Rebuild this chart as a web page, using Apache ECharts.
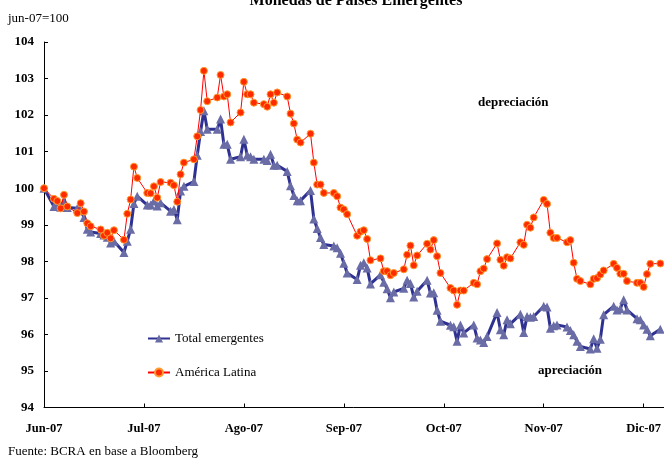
<!DOCTYPE html>
<html>
<head>
<meta charset="utf-8">
<script src="https://cdn.jsdelivr.net/npm/echarts@6/dist/echarts.min.js"></script>
<style>
  html, body { margin: 0; padding: 0; background: #fff; }
  #chart { width: 664px; height: 460px; }
</style>
</head>
<body>
<div id="chart"></div>
<script>
// etiquetas del eje x, una cada 30 dias desde el 1-jun-07
const monthLabels = ["Jun-07", "Jul-07", "Ago-07", "Sep-07", "Oct-07", "Nov-07", "Dic-07"];
const firstDay = "2007-06-01";
const lastDay = "2007-12-03";

// indice jun-07=100, un valor por dia habil
const totalEmergentes = [
  100.00, 99.50, 99.52, 99.48, 99.65, 99.47, 99.45, 99.40, 99.20, 98.88, 98.80,
  98.76, 98.72, 98.66, 98.50, 98.55, 98.24, 98.55, 98.88, 99.58, 99.78,
  99.54, 99.54, 99.65, 99.51, 99.60, 99.37, 99.42, 99.14, 99.92, 100.05,
  100.18, 100.90, 101.55, 102.12, 101.61, 101.61, 101.89, 101.20, 101.20, 100.79,
  100.86, 101.34,
  100.90, 100.86, 100.79, 100.79, 100.76, 100.93, 100.63, 100.63, 100.46, 100.07,
  99.80, 99.66, 99.66, 99.94, 99.16, 98.90, 98.65, 98.46, 98.42, 98.37, 98.22,
  97.95, 97.68,
  97.50, 97.89, 97.96, 97.82, 97.38, 97.63, 97.43, 97.25, 97.00, 97.16,
  97.26, 97.48, 97.39, 97.02, 97.18, 97.48, 97.13, 97.14, 96.66, 96.36,
  96.25, 96.21, 95.81, 96.26, 96.04, 96.26, 95.90, 95.85, 95.78, 95.94,
  96.60, 96.13, 95.99, 96.40, 96.29, 96.55, 96.05, 96.49, 96.47, 96.49,
  96.77, 96.75, 96.17,
  96.24, 96.26, 96.20, 96.11, 95.99, 95.81, 95.67, 95.60, 95.88, 95.62, 95.87,
  96.54, 96.77, 96.67, 96.70, 96.95, 96.67, 96.43, 96.40, 96.26, 96.14, 95.96,
  96.14
];
const americaLatina = [
  100.00, 99.71, 99.65, 99.45, 99.82, 99.50, 99.32, 99.59, 99.36, 99.04, 98.96,
  98.87, 98.70, 98.78, 98.63, 98.85, 98.59, 99.30, 99.69, 100.59, 100.28,
  99.87, 99.86, 100.05, 99.74, 100.17, 100.15, 100.08, 99.63, 100.38, 100.70,
  100.79, 101.42, 102.14, 103.21, 102.38, 102.48, 103.10, 102.51, 102.57, 101.80,
  102.07, 102.91,
  102.57, 102.57, 102.34, 102.30, 102.23, 102.57, 102.34, 102.62, 102.51, 102.04,
  101.77, 101.33, 101.25, 101.49, 100.70, 100.10, 100.10, 99.87, 99.87, 99.78,
  99.47, 99.42, 99.29,
  98.70, 98.81, 98.85, 98.61, 98.03, 98.08, 97.73, 97.73, 97.62, 97.68,
  97.78, 98.18, 98.43, 97.89, 98.16, 98.48, 98.32, 98.58, 98.14, 97.68,
  97.27, 97.20, 96.81, 97.20, 97.20, 97.41, 97.37, 97.73, 97.80, 98.06,
  98.49, 98.04, 97.88, 98.11, 98.08, 98.52, 98.45, 99.00, 98.92, 99.20,
  99.68, 99.57, 98.78,
  98.64, 98.64, 98.52, 98.58, 97.96, 97.52, 97.46, 97.37, 97.52, 97.54, 97.64,
  97.75, 97.93, 97.82, 97.66, 97.66, 97.46, 97.41, 97.41, 97.30, 97.65, 97.93,
  97.94
];

const serif = "Liberation Serif";

// dias habiles (en dias desde firstDay) entre firstDay y lastDay
function businessDays(from, to) {
  const out = [];
  const start = Date.parse(from);
  const end = Date.parse(to);
  for (let t = start; t <= end; t += 86400000) {
    const wd = new Date(t).getUTCDay();
    if (wd !== 0 && wd !== 6) out.push((t - start) / 86400000);
  }
  return out;
}
const days = businessDays(firstDay, lastDay);

function pairs(values) {
  return days.map(function (d, i) {
    return [d, values[i]];
  });
}

const myChart = echarts.init(document.getElementById("chart"));
const option = {
  animation: false,
  backgroundColor: "#fff",
  textStyle: { fontFamily: serif, color: "#000" },
  title: {
    text: "Monedas de Países Emergentes",
    left: 351,
    textAlign: "center",
    top: -12,
    textStyle: { fontFamily: serif, fontSize: 16, fontWeight: "bold", color: "#000" },
  },
  graphic: [
    { type: "text", left: 8, top: 12, style: { text: "jun-07=100", font: "13px " + serif, fill: "#000" } },
    { type: "text", left: 478, top: 96, style: { text: "depreciación", font: "bold 13px " + serif, fill: "#000" } },
    { type: "text", left: 538, top: 364, style: { text: "apreciación", font: "bold 13px " + serif, fill: "#000" } },
    { type: "text", left: 8, top: 445, style: { text: "Fuente: BCRA en base a Bloomberg", font: "13px " + serif, fill: "#000" } },
  ],
  legend: {
    orient: "vertical",
    left: 147,
    top: 332,
    padding: 0,
    itemGap: 21,
    itemWidth: 22,
    itemHeight: 10,
    textStyle: { fontFamily: serif, fontSize: 13, color: "#000" },
    data: ["Total emergentes", "América Latina"],
  },
  grid: { left: 44, top: 42, right: 0, bottom: 52.5, containLabel: false },
  xAxis: {
    type: "value",
    min: 0,
    max: 186,
    interval: 30,
    splitLine: { show: false },
    axisLine: { lineStyle: { color: "#000", width: 1 } },
    axisTick: { inside: true, length: 4, lineStyle: { color: "#000" } },
    axisLabel: {
      margin: 15,
      fontFamily: serif,
      fontSize: 12.5,
      fontWeight: "bold",
      color: "#000",
      showMaxLabel: false,
      formatter: function (v) {
        return v % 30 === 0 ? monthLabels[v / 30] || "" : "";
      },
    },
  },
  yAxis: {
    type: "value",
    min: 94,
    max: 104,
    interval: 1,
    splitLine: { show: false },
    axisLine: { show: true, lineStyle: { color: "#000", width: 1 } },
    axisTick: { show: true, inside: true, length: 4, lineStyle: { color: "#000" } },
    axisLabel: { margin: 10, fontFamily: serif, fontSize: 13, fontWeight: "bold", color: "#000" },
  },
  series: [
    {
      name: "Total emergentes",
      type: "line",
      data: pairs(totalEmergentes),
      symbol: "triangle",
      symbolSize: 9,
      lineStyle: { color: "#2E3192", width: 3 },
      itemStyle: { color: "#6A6CA6", borderWidth: 0 },
      z: 2,
    },
    {
      name: "América Latina",
      type: "line",
      data: pairs(americaLatina),
      symbol: "circle",
      symbolSize: 7,
      lineStyle: { color: "#FF0000", width: 1 },
      itemStyle: { color: "#FF2A00", borderColor: "#FF9A2E", borderWidth: 1 },
      z: 3,
    },
  ],
};
myChart.setOption(option);
</script>
</body>
</html>
